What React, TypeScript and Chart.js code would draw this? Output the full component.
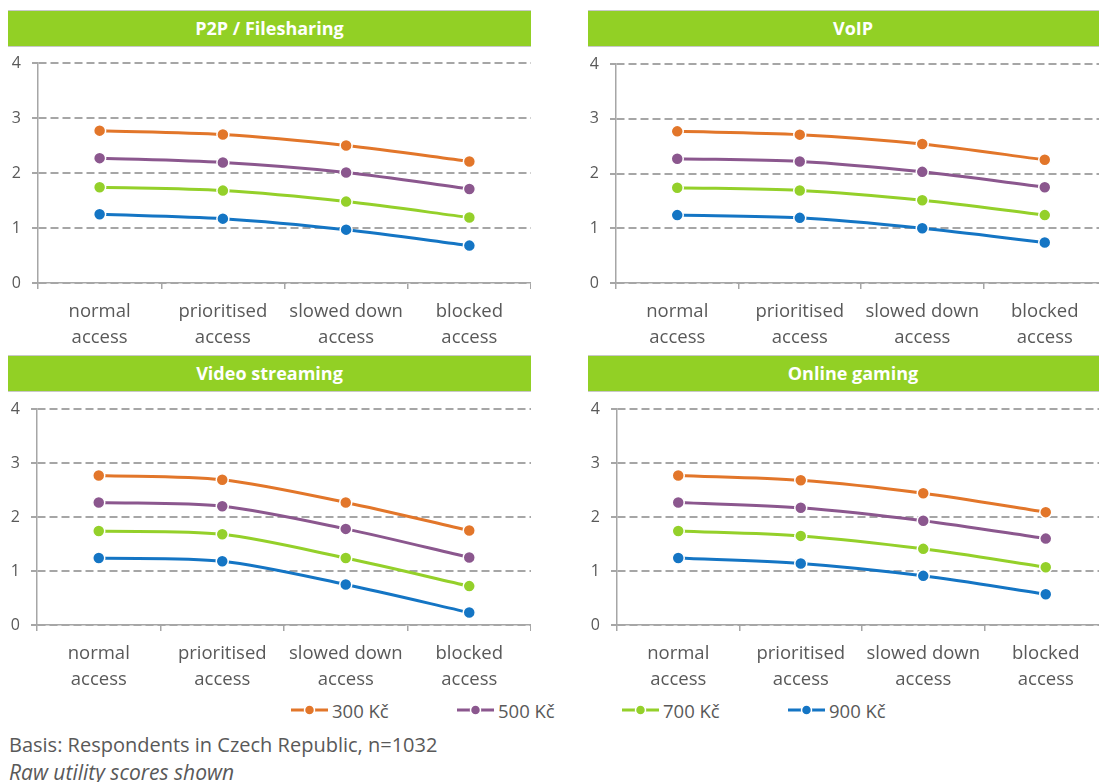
import React, { useEffect, useRef } from "react";
import { Chart, registerables } from "chart.js";

Chart.register(...registerables);

// ---------- DATA ----------
const categories = [
  ["normal", "access"],
  ["prioritised", "access"],
  ["slowed down", "access"],
  ["blocked", "access"],
];
const seriesNames = ["300 Kč", "500 Kč", "700 Kč", "900 Kč"];
const seriesColors = ["#E2762A", "#8B578E", "#94D02A", "#1475C4"];
const yTickValues = [0, 1, 2, 3, 4];

const p2p300 = [2.77, 2.7, 2.5, 2.21];
const p2p500 = [2.27, 2.19, 2.01, 1.71];
const p2p700 = [1.74, 1.68, 1.48, 1.19];
const p2p900 = [1.25, 1.17, 0.97, 0.68];

const voip300 = [2.77, 2.71, 2.54, 2.25];
const voip500 = [2.27, 2.22, 2.03, 1.75];
const voip700 = [1.74, 1.69, 1.51, 1.24];
const voip900 = [1.24, 1.19, 1.0, 0.74];

const video300 = [2.77, 2.69, 2.27, 1.75];
const video500 = [2.27, 2.2, 1.78, 1.25];
const video700 = [1.74, 1.68, 1.24, 0.72];
const video900 = [1.24, 1.18, 0.75, 0.23];

const gaming300 = [2.77, 2.68, 2.44, 2.09];
const gaming500 = [2.27, 2.17, 1.93, 1.6];
const gaming700 = [1.74, 1.65, 1.41, 1.07];
const gaming900 = [1.24, 1.14, 0.91, 0.57];

const panelTitles = ["P2P / Filesharing", "VoIP", "Video streaming", "Online gaming"];
const panelSeries = [
  [p2p300, p2p500, p2p700, p2p900],
  [voip300, voip500, voip700, voip900],
  [video300, video500, video700, video900],
  [gaming300, gaming500, gaming700, gaming900],
];

const basisText = "Basis: Respondents in Czech Republic, n=1032";
const noteText = "Raw utility scores shown";

// ---------- LAYOUT ----------
const FONT = "'Open Sans', 'Noto Sans', sans-serif";
const TEXT_GRAY = "#595959";
const AXIS_GRAY = "#A6A6A6";
const TITLE_GREEN = "#92D025";

type Box = { left: number; top: number; width: number; height: number; yw: number; barLeft: number; barTop: number; barWidth: number };

const panelBoxes: Box[] = [
  { left: 0, top: 48, width: 531, height: 297, yw: 38, barLeft: 8, barTop: 10, barWidth: 523 },
  { left: 578, top: 49, width: 528, height: 296, yw: 38, barLeft: 588, barTop: 10, barWidth: 530 },
  { left: 0, top: 394, width: 531, height: 293, yw: 37, barLeft: 8, barTop: 355, barWidth: 523 },
  { left: 579, top: 394, width: 528, height: 293, yw: 38, barLeft: 588, barTop: 355, barWidth: 530 },
];

function Panel({ index }: { index: number }) {
  const ref = useRef<HTMLCanvasElement | null>(null);
  const box = panelBoxes[index];
  useEffect(() => {
    if (!ref.current) return;
    const series = panelSeries[index];
    const chart = new Chart(ref.current, {
      type: "line",
      data: {
        labels: categories,
        datasets: series.map((vals, i) => ({
          label: seriesNames[i],
          data: vals,
          borderColor: seriesColors[i],
          backgroundColor: seriesColors[i],
          borderWidth: 3,
          pointRadius: 6,
          pointBorderWidth: 1.5,
          pointBorderColor: "#ffffff",
          pointBackgroundColor: seriesColors[i],
          tension: 0.3,
          fill: false,
          clip: false,
        })),
      },
      options: {
        animation: false,
        responsive: false,
        devicePixelRatio: 1,
        layout: { autoPadding: false, padding: { top: 15, left: 0, right: 0, bottom: 0 } },
        plugins: { legend: { display: false }, tooltip: { enabled: false } },
        scales: {
          x: {
            type: "category",
            offset: true,
            grid: {
              display: true,
              drawOnChartArea: false,
              drawTicks: true,
              tickLength: 6,
              offset: true,
              color: AXIS_GRAY,
              lineWidth: 1.5,
            },
            border: { display: true, color: AXIS_GRAY, width: 1.5 },
            ticks: {
              color: TEXT_GRAY,
              font: { family: FONT, size: 18.5, lineHeight: 1.4 },
              padding: 10,
              maxRotation: 0,
              autoSkip: false,
            },
            afterFit: (s: any) => {
              s.height = 62;
              s.paddingLeft = 0;
              s.paddingRight = 0;
            },
          },
          y: {
            min: 0,
            max: 4,
            afterBuildTicks: (s: any) => {
              s.ticks = yTickValues.map((v) => ({ value: v }));
            },
            ticks: {
              color: TEXT_GRAY,
              font: { family: FONT, size: 16 },
              padding: 11,
            },
            grid: {
              color: AXIS_GRAY,
              lineWidth: 2,
              tickLength: 6,
              drawTicks: true,
            },
            border: { display: true, color: AXIS_GRAY, width: 1.5, dash: [8, 4] },
            afterFit: (s: any) => {
              s.width = box.yw;
              s.paddingTop = 0;
              s.paddingBottom = 0;
            },
          },
        },
      } as any,
    });
    return () => chart.destroy();
  }, [index]);

  return (
    <>
      <div
        style={{
          position: "absolute",
          left: box.barLeft,
          top: box.barTop,
          width: box.barWidth,
          height: 35,
          background: TITLE_GREEN,
          borderTop: "1px solid #C8C8C8",
          borderBottom: "1px solid #C8C8C8",
          color: "#ffffff",
          fontFamily: FONT,
          fontWeight: 700,
          fontSize: 18,
          lineHeight: "35px",
          textAlign: "center",
          boxSizing: "content-box",
        }}
      >
        <span style={{ display: "inline-block", width: index % 2 === 1 ? 511 : 523 }}>{panelTitles[index]}</span>
      </div>
      <canvas
        ref={ref}
        width={box.width}
        height={box.height}
        style={{ position: "absolute", left: box.left, top: box.top, width: box.width, height: box.height }}
      />
    </>
  );
}

function LegendMarker({ color }: { color: string }) {
  return (
    <svg width={37} height={14} style={{ display: "block" }}>
      <line x1={0} y1={7} x2={37} y2={7} stroke={color} strokeWidth={3} />
      <circle cx={18.5} cy={7} r={5} fill={color} stroke="#ffffff" strokeWidth={1.5} />
    </svg>
  );
}

const legendLefts = [291, 457, 622, 788];

export default function App() {
  return (
    <div
      style={{
        position: "fixed",
        left: 0,
        top: 0,
        width: 1099,
        height: 782,
        overflow: "hidden",
        background: "#ffffff",
      }}
    >
      {[0, 1, 2, 3].map((i) => (
        <Panel key={i} index={i} />
      ))}
      {seriesNames.map((name, i) => (
        <div
          key={name}
          style={{
            position: "absolute",
            left: legendLefts[i],
            top: 698,
            height: 24,
            display: "flex",
            alignItems: "center",
            fontFamily: FONT,
            fontSize: 18.5,
            color: TEXT_GRAY,
            whiteSpace: "nowrap",
          }}
        >
          <LegendMarker color={seriesColors[i]} />
          <span style={{ marginLeft: 4 }}>{name}</span>
        </div>
      ))}
      <div
        style={{
          position: "absolute",
          left: 9,
          top: 731,
          fontFamily: FONT,
          fontSize: 20,
          lineHeight: "28px",
          color: TEXT_GRAY,
          whiteSpace: "nowrap",
        }}
      >
        {basisText}
      </div>
      <div
        style={{
          position: "absolute",
          left: 9,
          top: 758,
          fontFamily: FONT,
          fontSize: 21,
          fontStyle: "italic",
          lineHeight: "28px",
          color: TEXT_GRAY,
          whiteSpace: "nowrap",
        }}
      >
        {noteText}
      </div>
    </div>
  );
}
